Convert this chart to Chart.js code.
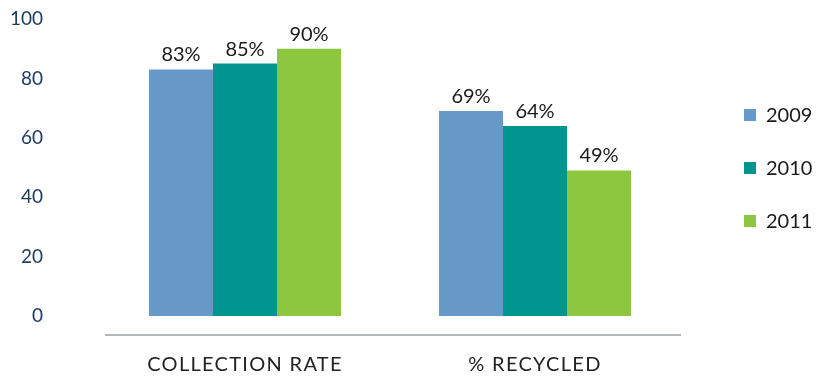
<!DOCTYPE html>
<html>
<head>
<meta charset="utf-8">
<script src="https://cdn.jsdelivr.net/npm/chart.js@4"></script>
<style>
  html, body { margin: 0; padding: 0; background: #ffffff; }
  #wrap { width: 828px; height: 377px; }
</style>
</head>
<body>
<div id="wrap"><canvas id="chart" width="828" height="377"></canvas></div>
<script>
// Chart data
const categories = ['COLLECTION RATE', '% RECYCLED'];
const years = ['2009', '2010', '2011'];
const values2009 = [83, 69];
const values2010 = [85, 64];
const values2011 = [90, 49];
const yTicks = [0, 20, 40, 60, 80, 100];

const colors = ['#6699c7', '#00958f', '#8dc63f'];
const FONT = 'Lato, "Open Sans", sans-serif';

// Percent labels above each bar, plus letter spacing for the category labels
const valueLabels = {
  id: 'valueLabels',
  beforeDraw(chart) {
    chart.ctx.letterSpacing = '0px';
  },
  afterDatasetsDraw(chart) {
    const ctx = chart.ctx;
    ctx.save();
    ctx.font = '20px ' + FONT;
    ctx.fillStyle = '#1a1a1a';
    ctx.textAlign = 'center';
    ctx.textBaseline = 'alphabetic';
    chart.data.datasets.forEach((ds, i) => {
      chart.getDatasetMeta(i).data.forEach((bar, j) => {
        ctx.fillText(ds.data[j] + '%', bar.x, bar.y - 8);
      });
    });
    ctx.restore();
    ctx.letterSpacing = '1.3px';
  },
  afterDraw(chart) {
    chart.ctx.letterSpacing = '0px';
  }
};

// Baseline rule under the bars
const baseRule = {
  id: 'baseRule',
  afterDraw(chart) {
    const { ctx, chartArea } = chart;
    const y = chartArea.bottom + 19;
    ctx.save();
    ctx.strokeStyle = '#b3b8bd';
    ctx.lineWidth = 2;
    ctx.beginPath();
    ctx.moveTo(chartArea.left + 5, y);
    ctx.lineTo(chartArea.right + 1, y);
    ctx.stroke();
    ctx.restore();
  }
};

// Legend on the right: square swatches with year labels
const sideLegend = {
  id: 'sideLegend',
  afterDraw(chart) {
    const { ctx, chartArea } = chart;
    const x = chartArea.right + 64;
    ctx.save();
    ctx.font = '20px ' + FONT;
    ctx.textAlign = 'left';
    ctx.textBaseline = 'middle';
    chart.data.datasets.forEach((ds, i) => {
      const cy = chartArea.top + 96 + i * 53;
      ctx.fillStyle = ds.backgroundColor;
      ctx.fillRect(x, cy - 6, 12, 12);
      ctx.fillStyle = '#1a1a1a';
      ctx.fillText(ds.label, x + 22, cy + 1);
    });
    ctx.restore();
  }
};

new Chart(document.getElementById('chart'), {
  type: 'bar',
  data: {
    labels: categories,
    datasets: [
      { label: years[0], data: values2009, backgroundColor: colors[0] },
      { label: years[1], data: values2010, backgroundColor: colors[1] },
      { label: years[2], data: values2011, backgroundColor: colors[2] }
    ]
  },
  options: {
    responsive: false,
    animation: false,
    layout: { padding: { top: 19, right: 148, bottom: 0, left: 0 } },
    datasets: {
      bar: { barPercentage: 1.0, categoryPercentage: 0.662, borderWidth: 0 }
    },
    plugins: {
      legend: { display: false },
      tooltip: { enabled: false }
    },
    scales: {
      x: {
        grid: { display: false, drawTicks: false },
        border: { display: false },
        ticks: {
          z: 1,
          padding: 37,
          color: '#222222',
          font: { family: FONT, size: 20 }
        },
        afterFit(scale) {
          scale.height = 61;
          scale.paddingLeft = 0;
          scale.paddingRight = 0;
        }
      },
      y: {
        min: 0,
        max: 100,
        grid: { display: false, drawTicks: false },
        border: { display: false },
        afterBuildTicks(scale) {
          scale.ticks = yTicks.map(v => ({ value: v }));
        },
        ticks: {
          padding: 57,
          color: '#1f3c63',
          font: { family: FONT, size: 19 }
        },
        afterFit(scale) {
          scale.width = 100;
          scale.paddingTop = 0;
          scale.paddingBottom = 0;
        }
      }
    }
  },
  plugins: [valueLabels, baseRule, sideLegend]
});
</script>
</body>
</html>
